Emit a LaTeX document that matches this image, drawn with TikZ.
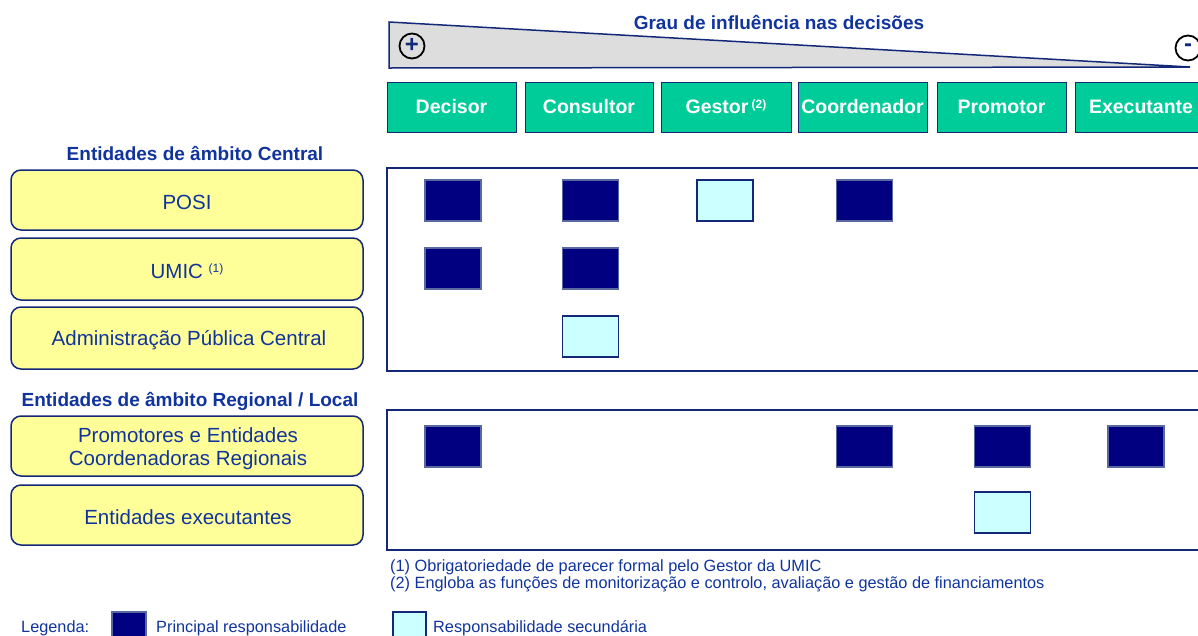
\documentclass[tikz,border=0pt]{standalone}
\usepackage{fontspec}
\setmainfont{Liberation Sans}
\definecolor{txtblue}{RGB}{16,52,156}
\definecolor{navy}{RGB}{20,40,120}
\definecolor{darksq}{RGB}{0,0,128}
\definecolor{lightsq}{RGB}{204,255,255}
\definecolor{greenbox}{RGB}{0,204,153}
\definecolor{yellowbox}{RGB}{255,255,153}
\definecolor{trigray}{RGB}{221,221,221}
\tikzset{
  role/.style={draw=navy, line width=0.8pt, fill=greenbox, text=white, font=\fontsize{19.5}{23}\selectfont\bfseries, minimum height=50pt, inner sep=0pt},
  entity/.style={draw=navy, line width=1.5pt, fill=yellowbox, rounded corners=10pt, minimum width=352pt, inner sep=0pt},
  etext/.style={text=txtblue, font=\fontsize{20.5}{23}\selectfont, inner sep=0pt, align=center},
  header/.style={text=txtblue, font=\fontsize{19}{22}\selectfont\bfseries, inner sep=0pt},
  panel/.style={draw=navy, line width=2pt},
  darkbox/.style={draw=navy!70!white, line width=1.2pt, fill=darksq, minimum width=56pt, minimum height=41pt, inner sep=0pt},
  lightbox/.style={draw=navy, line width=1.2pt, fill=lightsq, minimum width=56pt, minimum height=41pt, inner sep=0pt},
  note/.style={text=txtblue, font=\fontsize{16.3}{17}\selectfont, inner sep=0pt, anchor=west},
  pm/.style={circle, draw=black, line width=1.8pt, minimum size=25pt, inner sep=0pt, text=navy, font=\fontsize{24}{24}\selectfont\bfseries}
}
\begin{document}
\begin{tikzpicture}[x=1pt,y=-1pt]
\useasboundingbox (0,0) rectangle (1198,635);
\clip (0,0) rectangle (1198,635);
% influence triangle
\path[fill=trigray, draw=navy, line width=1.5pt] (389,22) coordinate (ta) -- (1190,67) coordinate (tb) -- (389,68) coordinate (tc) -- cycle;
\node[header] (title) at (779,22) {Grau de influência nas decisões};
\node[pm] (plus) at (412,46) {\raisebox{1pt}{+}};
\node[pm] (minus) at (1188,48) {\raisebox{1pt}{-}};
% role boxes
\node[role, minimum width=129pt] (decisor) at (451.5,107) {Decisor};
\node[role, minimum width=128pt] (consultor) at (589,107) {Consultor};
\node[role, minimum width=130pt] (gestor) at (726,107) {Gestor\,\raisebox{0.5ex}{\fontsize{12}{13}\selectfont(2)}};
\node[role, minimum width=129pt] (coord) at (862.5,107) {Coordenador};
\node[role, minimum width=129pt] (promotor) at (1001.5,107) {Promotor};
\node[role, minimum width=140pt, text width=124pt, align=left] (exec) at (1145,107) {\hspace*{6pt}Executante};
% central entities
\node[header] (hcentral) at (195,153) {Entidades de âmbito Central};
\node[entity, minimum height=60pt] (posi) at (187,200) {};
\node[etext] (posit) at (187,202) {POSI};
\node[entity, minimum height=62pt] (umic) at (187,269) {};
\node[etext] (umict) at (187,271) {UMIC \raisebox{0.6ex}{\fontsize{12}{13}\selectfont(1)}};
\node[entity, minimum height=62pt] (apc) at (187,338) {};
\node[etext] (apct) at (189,340) {Administração Pública Central};
\draw[panel] (387,168) rectangle (1210,371);
\node[darkbox] (s11) at (453,200.5) {};
\node[darkbox] (s12) at (590.5,200.5) {};
\node[lightbox] (s13) at (725,200.5) {};
\node[darkbox] (s14) at (864.5,200.5) {};
\node[darkbox] (s21) at (453,268.5) {};
\node[darkbox] (s22) at (590.5,268.5) {};
\node[lightbox] (s32) at (590.5,336.5) {};
% regional entities
\node[header] (hregional) at (190,401) {Entidades de âmbito Regional / Local};
\node[entity, minimum height=60pt] (promot) at (187,446) {};
\node[etext] (promott) at (188,449) {Promotores e Entidades\\Coordenadoras Regionais};
\node[entity, minimum height=60pt] (execut) at (187,515) {};
\node[etext] (executt) at (188,517) {Entidades executantes};
\draw[panel] (387,410) rectangle (1210,550);
\node[darkbox] (r11) at (453,446.5) {};
\node[darkbox] (r14) at (864.5,446.5) {};
\node[darkbox] (r15) at (1002.5,446.5) {};
\node[darkbox] (r16) at (1136,446.5) {};
\node[lightbox] (r25) at (1002.5,512.5) {};
% footnotes
\node[note] (fn1) at (390,567) {(1) Obrigatoriedade de parecer formal pelo Gestor da UMIC};
\node[note] (fn2) at (390,584) {(2) Engloba as funções de monitorização e controlo, avaliação e gestão de financiamentos};
% legend
\node[note] (leg) at (21,628) {Legenda:};
\node[darkbox, minimum width=34pt, minimum height=30pt] (legdark) at (129,627) {};
\node[note] (legdarkt) at (156,628) {Principal responsabilidade};
\node[lightbox, minimum width=33pt, minimum height=30pt] (leglight) at (409.5,627) {};
\node[note] (leglightt) at (433,628) {Responsabilidade secundária};
\end{tikzpicture}
\end{document}
